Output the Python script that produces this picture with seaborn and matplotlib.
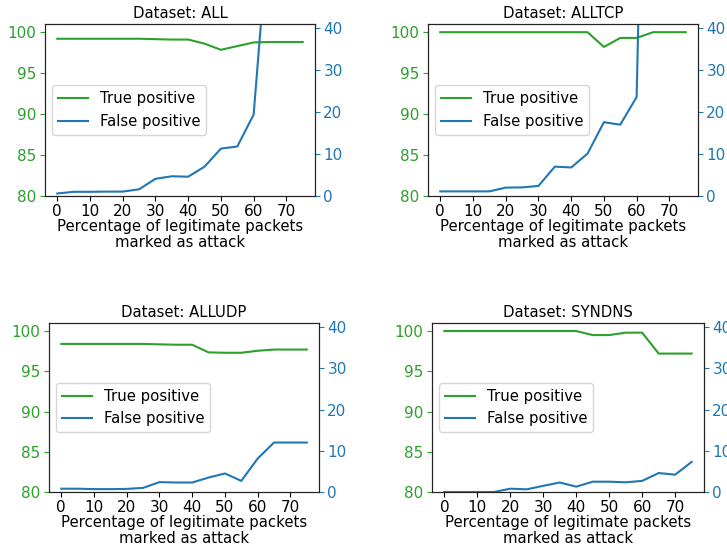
import matplotlib
matplotlib.use("Agg")
import matplotlib.pyplot as plt
import seaborn as sns
import pandas as pd

pct = [0, 5, 10, 15, 20, 25, 30, 35, 40, 45, 50, 55, 60, 65, 70, 75]

datasets = ["ALL", "ALLTCP", "ALLUDP", "SYNDNS"]

tp_all = [99.2, 99.2, 99.2, 99.2, 99.2, 99.2, 99.15, 99.1, 99.1, 98.6, 97.85, 98.3, 98.75, 98.8, 98.8, 98.8]
fp_all = [0.6, 1.0, 1.0, 1.05, 1.05, 1.6, 4.1, 4.7, 4.6, 7.0, 11.3, 11.8, 19.4, 68.0, 85.0, 95.0]

tp_tcp = [100, 100, 100, 100, 100, 100, 100, 100, 100, 100, 98.2, 99.3, 99.3, 100, 100, 100]
fp_tcp = [1.1, 1.1, 1.1, 1.1, 2.0, 2.05, 2.4, 7.0, 6.8, 10.1, 17.6, 17.0, 23.6, 200.0, 220.0, 240.0]

tp_udp = [98.4, 98.4, 98.4, 98.4, 98.4, 98.4, 98.35, 98.3, 98.3, 97.35, 97.3, 97.3, 97.55, 97.7, 97.7, 97.7]
fp_udp = [0.8, 0.8, 0.7, 0.7, 0.75, 1.0, 2.4, 2.3, 2.3, 3.5, 4.5, 2.7, 8.1, 12.0, 12.0, 12.0]

tp_syn = [100, 100, 100, 100, 100, 100, 100, 100, 100, 99.5, 99.5, 99.8, 99.8, 97.2, 97.2, 97.2]
fp_syn = [0.0, 0.0, 0.0, 0.0, 0.8, 0.65, 1.5, 2.3, 1.3, 2.5, 2.5, 2.35, 2.7, 4.6, 4.2, 7.3]

tp_series = [tp_all, tp_tcp, tp_udp, tp_syn]
fp_series = [fp_all, fp_tcp, fp_udp, fp_syn]

left_ticks = [80, 85, 90, 95, 100]
right_ticks = [0, 10, 20, 30, 40]
x_ticks = [0, 10, 20, 30, 40, 50, 60, 70]
xlabel = "Percentage of legitimate packets\nmarked as attack"

GREEN = "#2ca02c"
BLUE = "#1f77b4"
FS = 10.7
TFS = 11

plt.rcParams["font.family"] = ["DejaVu Sans"]
plt.rcParams["font.size"] = FS

fig = plt.figure(figsize=(7.27, 5.47), dpi=100)

W, H = 727, 547
boxes = [
    (45, 24, 315, 196),
    (428, 24, 698, 196),
    (49, 323, 319, 492),
    (432, 323, 704, 492),
]

for name, tp, fp, (x0, y0, x1, y1) in zip(datasets, tp_series, fp_series, boxes):
    ax = fig.add_axes([x0 / W, (H - y1) / H, (x1 - x0) / W, (y1 - y0) / H])
    ax2 = ax.twinx()
    df = pd.DataFrame({"pct": pct, "tp": tp, "fp": fp})
    sns.lineplot(data=df, x="pct", y="tp", ax=ax, color=GREEN, label="True positive", legend=False)
    sns.lineplot(data=df, x="pct", y="fp", ax=ax2, color=BLUE, label="False positive", legend=False)
    ax.set_ylim(80, 101)
    ax2.set_ylim(0, 41)
    ax.set_yticks(left_ticks)
    ax2.set_yticks(right_ticks)
    ax.set_xticks(x_ticks)
    ax.tick_params(axis="y", colors=GREEN, labelsize=TFS, pad=2.5)
    ax2.tick_params(axis="y", colors=BLUE, labelsize=TFS, pad=2.5)
    ax.tick_params(axis="x", labelsize=TFS, pad=2.5)
    for a in (ax, ax2):
        for s in a.spines.values():
            s.set_color("#222222")
    ax.set_ylabel("")
    ax2.set_ylabel("")
    ax.set_xlabel(xlabel, fontsize=FS, labelpad=0, linespacing=1.05)
    ax.set_title(f"Dataset: {name}", fontsize=FS, pad=4)
    h1, l1 = ax.get_legend_handles_labels()
    h2, l2 = ax2.get_legend_handles_labels()
    if ax.get_legend() is not None:
        ax.get_legend().remove()
    ax2.legend(h1 + h2, l1 + l2, loc="center left", fontsize=FS)

fig.savefig("out.png", dpi=100)
